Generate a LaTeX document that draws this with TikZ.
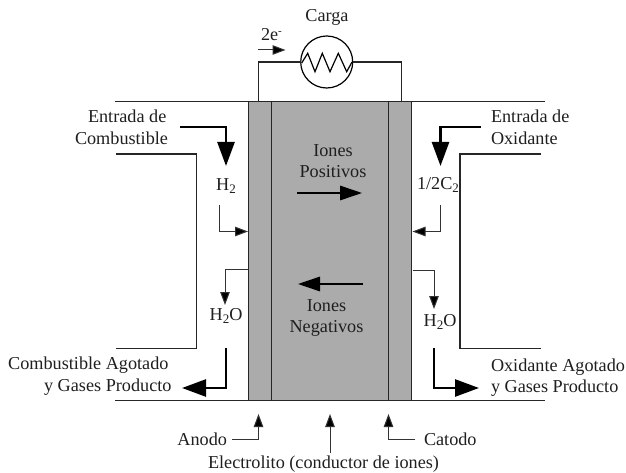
\documentclass[tikz,border=0pt]{standalone}
\usepackage{fontspec}
\setmainfont{Liberation Serif}
\usetikzlibrary{arrows.meta}
\newcommand{\lowtwo}{\raisebox{-3pt}{\fontsize{13}{13}\selectfont 2}}
\tikzset{
  lbl/.style={inner sep=0pt,outer sep=0pt,font=\fontsize{18.2}{21.5}\selectfont,text=black!88},
  wall/.style={draw=black!85,line width=1.3pt},
  cellline/.style={draw=black!85,line width=1.3pt},
  thin flow/.style={draw=black!80,line width=1pt,-{Triangle[length=13pt,width=9.5pt,fill=black]}},
  heavy flow/.style={draw=black,line width=2.6pt,-{Triangle[length=24pt,width=17pt,fill=black]}},
  ion flow/.style={draw=black,line width=1.5pt,-{Triangle[length=22pt,width=14.5pt,fill=black]}},
}
\begin{document}
\begin{tikzpicture}[x=1pt,y=-1pt]
\useasboundingbox (0,0) rectangle (626,473);
% cell
\fill[fill=black!33] (248.5,101.5) rectangle (412,400.7);
\coordinate (tl) at (115,101.5);
\coordinate (tr) at (545,101.5);
\coordinate (bl) at (115,400.7);
\coordinate (br) at (545,400.7);
\draw[wall] (tl) -- (tr);
\draw[wall] (bl) -- (br);
\draw[cellline] (248.5,101.5) -- (248.5,400.7);
\draw[cellline] (271.8,101.5) -- (271.8,400.7);
\draw[cellline] (388.5,101.5) -- (388.5,400.7);
\draw[cellline] (411.8,101.5) -- (411.8,400.7);
% channels
\draw[wall,line join=miter] (116,154) -- (196.5,154) -- (196.5,348.7) -- (116,348.7);
\draw[wall,line join=miter] (540.7,154) -- (460,154) -- (460,348.7) -- (540.7,348.7);
% load
\node[circle,draw=black,line width=1.2pt,minimum size=52pt,inner sep=0pt,outer sep=0pt] (load) at (326.7,62) {};
\coordinate (anodeTop) at (258.5,101.5);
\coordinate (cathodeTop) at (401.5,101.5);
\draw[wall,line join=miter] (anodeTop) |- (load.west);
\draw[wall,line join=miter] (load.east) -| (cathodeTop);
\draw[black,line width=1.2pt,line join=miter] (301.7,63) -- (307.7,53.3) -- (315,71.7) -- (322.3,53.3) -- (330,71.7) -- (338.3,53.3) -- (346.7,71.7) -- (352,62);
% texts
\node[lbl] (carga) at (327,17) {Carga};
\node[lbl,anchor=base west] (tee) at (261,41) {2e\raisebox{6pt}{\fontsize{11}{11}\selectfont -}};
\coordinate (e1) at (258,50); \coordinate (e2) at (285.5,50);
\draw[draw=black!80,line width=1pt,-{Triangle[length=13pt,width=9.5pt,fill=black]}] (e1) -- (e2);
\node[lbl,align=left,anchor=west] (infuel) at (75,127.5) {\hspace*{13pt}Entrada de\\Combustible};
\node[lbl,align=left,anchor=west] (inox) at (491,127.5) {Entrada de\\Oxidante};
\node[lbl,align=center] (ionpos) at (333,161) {Iones\\Positivos};
\node[lbl,align=center] (ionneg) at (326.5,318) {Iones\\Negativos};
\node[lbl] (h2) at (226,186) {H\lowtwo};
\node[lbl] (o2) at (438,185) {1/2C\lowtwo};
\node[lbl] (wl) at (226,316) {H\lowtwo O};
\node[lbl] (wr) at (440,322) {H\lowtwo O};
\node[lbl,align=right,anchor=east] (outfuel) at (171.5,376) {Combustible Agotado\hspace*{3pt}\\y Gases Producto};
\node[lbl,align=left,anchor=west] (outox) at (491,377.5) {Oxidante Agotado\\y Gases Producto};
\node[lbl,anchor=east] (anodo) at (227,439) {Anodo};
\node[lbl,anchor=west] (catodo) at (424,439) {Catodo};
\node[lbl] (elec) at (323.5,464) {Electrolito (conductor de iones)};
% heavy flows
\coordinate (a1) at (180,127); \coordinate (a2) at (226,166);
\draw[heavy flow] (a1) -| (a2);
\coordinate (b1) at (480.7,127); \coordinate (b2) at (440.5,166);
\draw[heavy flow] (b1) -| (b2);
\coordinate (c1) at (226,348); \coordinate (c2) at (182,388);
\draw[heavy flow] (c1) |- (c2);
\coordinate (d1) at (434,348); \coordinate (d2) at (479,388);
\draw[heavy flow] (d1) |- (d2);
% thin flows
\coordinate (f1) at (219.5,205); \coordinate (f2) at (248,231.5);
\draw[thin flow] (f1) |- (f2);
\coordinate (g1) at (440.5,205); \coordinate (g2) at (412.5,231.5);
\draw[thin flow] (g1) |- (g2);
\coordinate (h1) at (248,269.7); \coordinate (h2e) at (225,305);
\draw[thin flow] (h1) -| (h2e);
\coordinate (i1) at (412.5,270.5); \coordinate (i2) at (434,309);
\draw[thin flow] (i1) -| (i2);
% ion arrows
\coordinate (j1) at (297,193); \coordinate (j2) at (362,193);
\draw[ion flow] (j1) -- (j2);
\coordinate (k1) at (363,284); \coordinate (k2) at (298,284);
\draw[ion flow] (k1) -- (k2);
% pointers
\coordinate (m2) at (258.5,414);
\draw[thin flow] (anodo.east) ++(5,0) -| (m2);
\coordinate (n1) at (330,453); \coordinate (n2) at (330,414);
\draw[thin flow] (n1) -- (n2);
\coordinate (p2) at (388.5,414);
\draw[thin flow] (catodo.west) ++(-9,0) -| (p2);
\end{tikzpicture}
\end{document}
